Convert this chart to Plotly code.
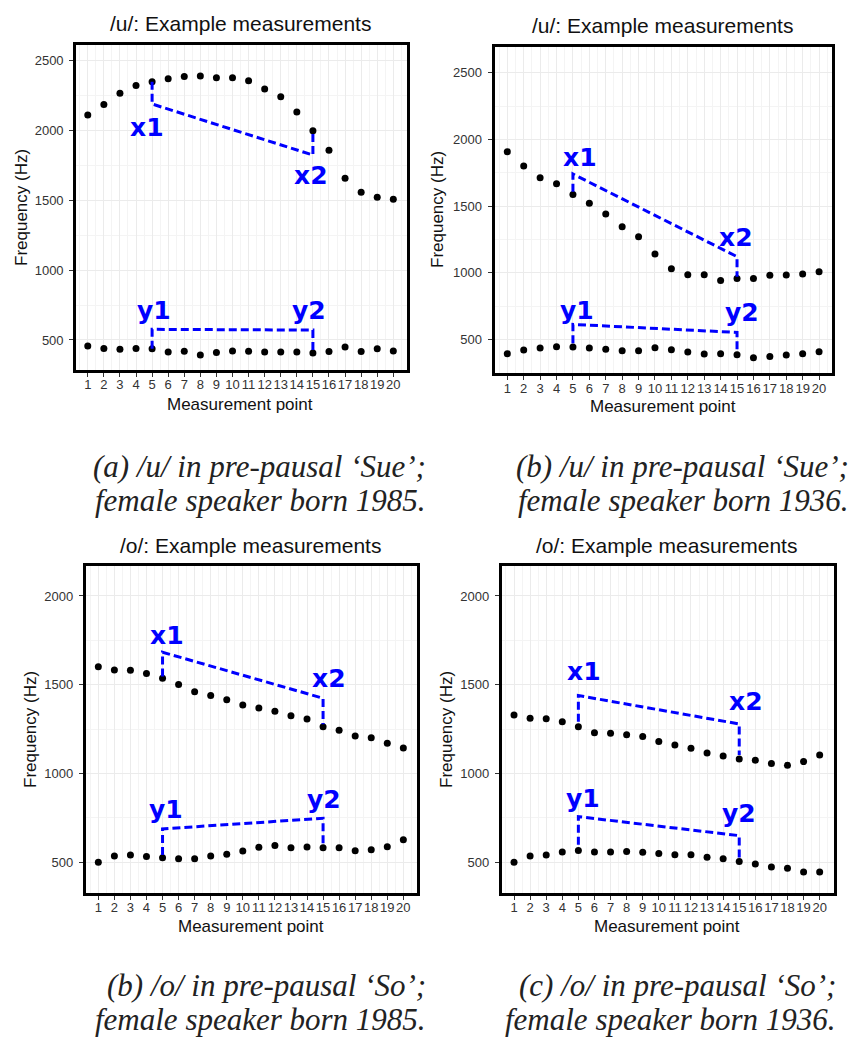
import plotly.graph_objects as go

W, H = 855, 1041

points = list(range(1, 21))

# Panel (a): /u/ 'Sue', female born 1985
a_f2 = [2107, 2183, 2262, 2319, 2345, 2367, 2383, 2386, 2374, 2374,
        2352, 2293, 2238, 2129, 1995, 1855, 1655, 1555, 1519, 1505]
a_f1 = [457, 440, 433, 440, 438, 414, 419, 393, 410, 421,
        419, 414, 414, 414, 407, 417, 450, 417, 438, 421]

# Panel (b): /u/ 'Sue', female born 1936
b_f2 = [1907, 1800, 1712, 1667, 1587, 1520, 1440, 1345, 1270, 1140,
        1030, 985, 985, 942, 957, 957, 980, 982, 990, 1007]
b_f1 = [392, 420, 435, 445, 442, 435, 425, 415, 415, 437,
        422, 405, 390, 392, 385, 362, 372, 382, 392, 407]

# Panel (b) bottom: /o/ 'So', female born 1985
c_f2 = [1602, 1583, 1581, 1563, 1536, 1502, 1461, 1440, 1416, 1386,
        1369, 1350, 1326, 1307, 1264, 1243, 1211, 1202, 1170, 1144]
c_f1 = [500, 535, 541, 532, 526, 520, 520, 535, 545, 564,
        584, 594, 582, 586, 582, 582, 565, 571, 588, 627]

# Panel (c): /o/ 'So', female born 1936
d_f2 = [1330, 1311, 1309, 1291, 1264, 1230, 1227, 1219, 1208, 1180,
        1161, 1142, 1116, 1099, 1082, 1075, 1056, 1046, 1067, 1104]
d_f1 = [500, 535, 541, 558, 566, 558, 558, 560, 556, 549,
        543, 543, 528, 520, 504, 490, 474, 466, 445, 445]

# Bracket annotations (measurement points 5 and 15)
a_xbr_x, a_xbr_y = [5, 5, 15, 15], [2345, 2186, 1821, 1995]
a_ybr_x, a_ybr_y = [5, 5, 15, 15], [438, 576, 571, 407]
b_xbr_x, b_xbr_y = [5, 5, 15, 15], [1607, 1740, 1120, 970]
b_ybr_x, b_ybr_y = [5, 5, 15, 15], [470, 612, 552, 420]
c_xbr_x, c_xbr_y = [5, 5, 15, 15], [1546, 1683, 1424, 1277]
c_ybr_x, c_ybr_y = [5, 5, 15, 15], [541, 688, 748, 601]
d_xbr_x, d_xbr_y = [5, 5, 15, 15], [1292, 1439, 1279, 1104]
d_ybr_x, d_ybr_y = [5, 5, 15, 15], [598, 757, 650, 523]

label_names = ["x1", "x2", "y1", "y2"]
a_lab_x, a_lab_y = [4.67, 14.86, 5.12, 14.78], [2019, 1674, 714, 714]
b_lab_x, b_lab_y = [5.43, 14.92, 5.25, 15.31], [1865, 1265, 715, 702]
c_lab_x, c_lab_y = [5.3, 15.38, 5.24, 15.04], [1780, 1536, 795, 851]
d_lab_x, d_lab_y = [5.32, 15.4, 5.26, 15.0], [1574, 1405, 857, 776]

panel_titles = ["/u/: Example measurements", "/u/: Example measurements",
                "/o/: Example measurements", "/o/: Example measurements"]
captions = [
    ["(a) /u/ in pre-pausal ‘Sue’;", "female speaker born 1985."],
    ["(b) /u/ in pre-pausal ‘Sue’;", "female speaker born 1936."],
    ["(b) /o/ in pre-pausal ‘So’;", "female speaker born 1985."],
    ["(c) /o/ in pre-pausal ‘So’;", "female speaker born 1936."],
]
y_ticks = [500, 1000, 1500, 2000, 2500]

panels = [
    dict(f1=a_f1, f2=a_f2, xb=(a_xbr_x, a_xbr_y), yb=(a_ybr_x, a_ybr_y), lab=(a_lab_x, a_lab_y),
         box=(76.2, 406.5, 44.8, 369.8), xr=[0.28, 20.82], yr=[287, 2609],
         title=(240, 24), ytitle=(21, 208), xtitle=(240, 405), cap=(428, 466)),
    dict(f1=b_f1, f2=b_f2, xb=(b_xbr_x, b_xbr_y), yb=(b_ybr_x, b_ybr_y), lab=(b_lab_x, b_lab_y),
         box=(494.5, 832.2, 47.2, 373.2), xr=[0.22, 20.8], yr=[246, 2691],
         title=(662, 26), ytitle=(438, 210), xtitle=(663, 406), cap=(851, 466)),
    dict(f1=c_f1, f2=c_f2, xb=(c_xbr_x, c_xbr_y), yb=(c_ybr_x, c_ybr_y), lab=(c_lab_x, c_lab_y),
         box=(85.8, 416.5, 565.8, 892.8), xr=[0.22, 20.82], yr=[328, 2170],
         title=(250, 545), ytitle=(30, 730), xtitle=(251, 926), cap=(428, 985)),
    dict(f1=d_f1, f2=d_f2, xb=(d_xbr_x, d_xbr_y), yb=(d_ybr_x, d_ybr_y), lab=(d_lab_x, d_lab_y),
         box=(501.8, 833.5, 565.8, 892.8), xr=[0.24, 20.86], yr=[328, 2170],
         title=(666, 545), ytitle=(446, 730), xtitle=(667, 926), cap=(838, 985)),
]

BLUE = "#0000FF"
fig = go.Figure()
annotations = []
layout = dict(
    width=W, height=H, margin=dict(l=0, r=0, t=0, b=0),
    paper_bgcolor="white", plot_bgcolor="white", showlegend=False,
    font=dict(family="Liberation Sans, Arial, sans-serif", color="#222222"),
)


def px(x):
    return x / W


def py(y):
    return 1 - y / H


for i, p in enumerate(panels):
    n = "" if i == 0 else str(i + 1)
    xa, ya = "x" + n, "y" + n
    x0, x1, y0, y1 = p["box"]
    common = dict(
        showline=True, mirror=True, linecolor="black", linewidth=3,
        ticks="outside", ticklen=4, tickwidth=1, tickcolor="#333333",
        tickfont=dict(size=13, color="#333333", family="Liberation Sans, Arial"),
        showgrid=True, gridcolor="#EBEBEB", gridwidth=1, zeroline=False,
    )
    layout["xaxis" + n] = dict(
        common, domain=[px(x0), px(x1)], range=p["xr"], anchor=ya,
        tickmode="array", tickvals=points, ticktext=[str(v) for v in points], tickangle=0,
        ticklabelstandoff=-3,
        minor=dict(tickmode="array", tickvals=[v + 0.5 for v in range(0, 21)],
                   showgrid=True, gridcolor="#F4F4F4", gridwidth=0.6, ticks=""),
    )
    layout["yaxis" + n] = dict(
        common, domain=[py(y1), py(y0)], range=p["yr"], anchor=xa,
        tickmode="array", tickvals=y_ticks, ticktext=[str(v) for v in y_ticks],
        ticklabelstandoff=3,
        minor=dict(tickmode="array", tickvals=[250, 750, 1250, 1750, 2250, 2750],
                   showgrid=True, gridcolor="#F4F4F4", gridwidth=0.6, ticks=""),
    )
    for series in (p["f2"], p["f1"]):
        fig.add_trace(go.Scatter(x=points, y=series, mode="markers", xaxis=xa, yaxis=ya,
                                 marker=dict(color="black", size=7), cliponaxis=False))
    for bx, by in (p["xb"], p["yb"]):
        fig.add_trace(go.Scatter(x=bx, y=by, mode="lines", xaxis=xa, yaxis=ya,
                                 line=dict(color=BLUE, width=3, dash="8px,4px")))
    lx, ly = p["lab"]
    for name, tx, ty in zip(label_names, lx, ly):
        annotations.append(dict(x=tx, y=ty, xref=xa, yref=ya, text="<b>%s</b>" % name,
                                showarrow=False, xanchor="center", yanchor="middle",
                                font=dict(family="DejaVu Sans", size=25, color=BLUE)))
    tx, ty = p["title"]
    annotations.append(dict(x=px(tx), y=py(ty), xref="paper", yref="paper", text=panel_titles[i],
                            showarrow=False, xanchor="center", yanchor="middle",
                            font=dict(size=21, color="#111111")))
    tx, ty = p["ytitle"]
    annotations.append(dict(x=px(tx), y=py(ty), xref="paper", yref="paper", text="Frequency (Hz)",
                            showarrow=False, xanchor="center", yanchor="middle", textangle=-90,
                            font=dict(size=17, color="#111111")))
    tx, ty = p["xtitle"]
    annotations.append(dict(x=px(tx), y=py(ty), xref="paper", yref="paper", text="Measurement point",
                            showarrow=False, xanchor="center", yanchor="middle",
                            font=dict(size=17, color="#111111")))
    cx, cy = p["cap"]
    for k, line in enumerate(captions[i]):
        annotations.append(dict(x=px(cx), y=py(cy + 34 * k), xref="paper", yref="paper",
                                text="<i>%s</i>" % line, showarrow=False,
                                xanchor="right", yanchor="middle",
                                font=dict(family="Liberation Serif, serif", size=31, color="#222222")))

layout["annotations"] = annotations
fig.update_layout(**layout)
fig.write_html("out.html")
